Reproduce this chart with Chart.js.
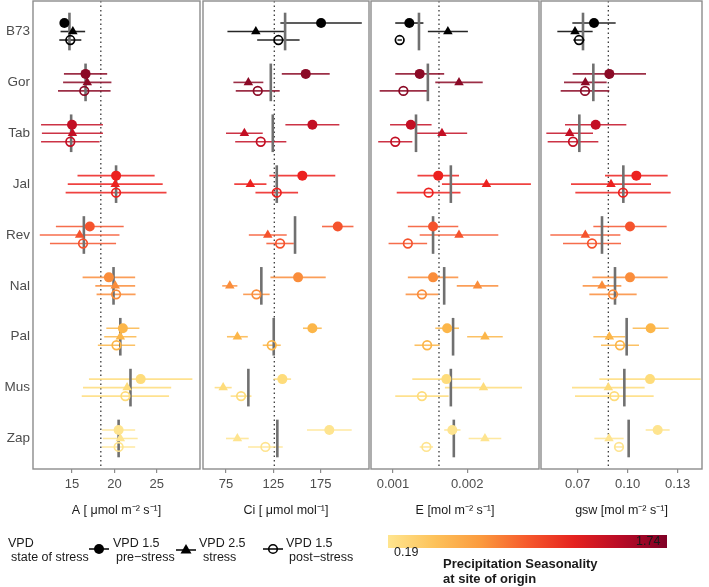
<!DOCTYPE html>
<html>
<head>
<meta charset="utf-8">
<script src="https://cdn.jsdelivr.net/npm/chart.js@4.4.1/dist/chart.umd.min.js"></script>
<style>
    body { margin: 0; background: #fff; font-family: "Liberation Sans", Arial, sans-serif; }
    #wrap { position: relative; width: 709px; height: 587px; overflow: hidden; }
    #wrap canvas { position: absolute; left: 0; top: 0; }
    .txt { position: absolute; font-size: 12.5px; color: #1a1a1a; white-space: nowrap; line-height: 15px; }
    .bold { font-weight: bold; font-size: 13px; }
    #cbar { position: absolute; left: 388px; top: 535px; width: 279px; height: 13px;
        background: linear-gradient(to right, #ffe58f, #fdc25a, #fb9a3e, #f6592c, #e5221f, #b80b26, #800026); }
</style>
</head>
<body>
<div id="wrap">
    <canvas id="c0" width="709" height="587"></canvas>
    <canvas id="c1" width="709" height="587"></canvas>
    <canvas id="c2" width="709" height="587"></canvas>
    <canvas id="c3" width="709" height="587"></canvas>

    <div class="txt" style="left:8px;top:536px;">VPD</div>
    <div class="txt" style="left:11px;top:550px;">state of stress</div>
    <svg style="position:absolute;left:88px;top:542px;" width="22" height="14">
        <line x1="1" y1="7" x2="21" y2="7" stroke="#000" stroke-width="1.5"/>
        <circle cx="11" cy="7" r="5" fill="#000"/>
    </svg>
    <div class="txt" style="left:113px;top:536px;">VPD 1.5</div>
    <div class="txt" style="left:116px;top:550px;">pre−stress</div>
    <svg style="position:absolute;left:175px;top:542px;" width="22" height="14">
        <line x1="1" y1="8" x2="21" y2="8" stroke="#000" stroke-width="1.5"/>
        <polygon points="11,2 16.5,11.5 5.5,11.5" fill="#000"/>
    </svg>
    <div class="txt" style="left:199px;top:536px;">VPD 2.5</div>
    <div class="txt" style="left:203px;top:550px;">stress</div>
    <svg style="position:absolute;left:262px;top:542px;" width="22" height="14">
        <line x1="1" y1="7" x2="21" y2="7" stroke="#000" stroke-width="1.5"/>
        <circle cx="11" cy="7" r="4.3" fill="none" stroke="#000" stroke-width="1.6"/>
    </svg>
    <div class="txt" style="left:286px;top:536px;">VPD 1.5</div>
    <div class="txt" style="left:289px;top:550px;">post−stress</div>

    <div id="cbar"></div>
    <div class="txt" style="left:394px;top:545px;">0.19</div>
    <div class="txt" style="left:636px;top:534px;">1.74</div>
    <div class="txt bold" style="left:443px;top:556px;">Precipitation Seasonality</div>
    <div class="txt bold" style="left:443px;top:571px;">at site of origin</div>
</div>

<script>
// === Data (order: top to bottom) ===
const genotypes = ["B73", "Gor", "Tab", "Jal", "Rev", "Nal", "Pal", "Mus", "Zap"];
const genotypeColors = ["#000000", "#8b0a26", "#c30f24", "#ec211f", "#f5532d", "#fa8d3b", "#fcb649", "#fedc7b", "#fee48f"];

// A
const aPre = [14.1, 16.6, 15.0, 20.2, 17.1, 19.35, 21.0, 23.1, 20.5];
const aPreErr = [0.5, 2.55, 3.65, 4.55, 4.0, 3.1, 1.95, 6.1, 1.95];
const aStress = [15.1, 16.8, 15.05, 20.1, 15.9, 20.1, 20.7, 21.5, 20.7];
const aStressErr = [1.45, 2.85, 3.6, 5.6, 4.7, 2.35, 1.9, 5.2, 2.05];
const aPost = [14.8, 16.45, 14.8, 20.2, 16.3, 20.2, 20.25, 21.3, 20.5];
const aPostErr = [1.3, 3.1, 3.45, 5.95, 3.9, 2.3, 2.2, 5.15, 1.95];
const aMean = [14.7, 16.6, 14.9, 20.2, 16.4, 19.9, 20.7, 21.9, 20.5];

// Ci
const ciPre = [175.4, 159.2, 166.2, 155.6, 193, 151.1, 166.2, 134.5, 184.1];
const ciPreErr = [43, 25.3, 28.5, 34.8, 16.6, 29.2, 9.9, 9.2, 23.6];
const ciStress = [106.5, 98.6, 94.4, 100.7, 119.1, 79, 87, 72, 87];
const ciStressErr = [30, 15.8, 19.4, 17, 20, 8, 11, 9, 12];
const ciPost = [130.3, 108.5, 111.7, 128.6, 132.1, 107.1, 123.3, 90.9, 116.6];
const ciPostErr = [22.4, 23.2, 27, 22.5, 14.5, 14, 9.5, 11, 18.3];
const ciMean = [137.4, 122.3, 124.4, 128.6, 147.9, 112.3, 125.4, 98.6, 129.2];

// E
const ePre = [0.00122, 0.00136, 0.00124, 0.00161, 0.00154, 0.00154, 0.00173, 0.00172, 0.00180];
const ePreErr = [0.00019, 0.00033, 0.00028, 0.00028, 0.00034, 0.00034, 0.00016, 0.00046, 0.00011];
const eStress = [0.00174, 0.00189, 0.00166, 0.00226, 0.00189, 0.00214, 0.00224, 0.00222, 0.00224];
const eStressErr = [0.00027, 0.00032, 0.00034, 0.00060, 0.00053, 0.00028, 0.00024, 0.00052, 0.00022];
const ePost = [0.00109, 0.00114, 0.00103, 0.00148, 0.00120, 0.00139, 0.00146, 0.00139, 0.00145];
const ePostErr = [0.00003, 0.00032, 0.00023, 0.00043, 0.00026, 0.00022, 0.00017, 0.00036, 0.00009];
const eMean = [0.00135, 0.00147, 0.00131, 0.00178, 0.00154, 0.00169, 0.00181, 0.00178, 0.00182];

// gsw
const gPre = [0.0798, 0.089, 0.0808, 0.1052, 0.1014, 0.1014, 0.1138, 0.1134, 0.118];
const gPreErr = [0.013, 0.022, 0.0184, 0.0188, 0.022, 0.0226, 0.0108, 0.0304, 0.0072];
const gStress = [0.0684, 0.0746, 0.0652, 0.09, 0.0746, 0.0846, 0.089, 0.0884, 0.0888];
const gStressErr = [0.0106, 0.0128, 0.014, 0.024, 0.021, 0.0116, 0.0096, 0.0218, 0.0088];
const gPost = [0.0708, 0.0744, 0.0672, 0.0972, 0.0786, 0.0912, 0.0954, 0.092, 0.0948];
const gPostErr = [0.0034, 0.0146, 0.0152, 0.0286, 0.0174, 0.0142, 0.0114, 0.0236, 0.003];
const gMean = [0.0732, 0.0794, 0.071, 0.0974, 0.0846, 0.0924, 0.0994, 0.098, 0.1006];

// overall reference (dotted line) per panel
const refLines = [18.4, 126, 0.00162, 0.0884];

// tick labels per panel
const aTicks = [15, 20, 25];
const ciTicks = [75, 125, 175];
const eTicks = [0.001, 0.002];
const gTicks = [0.07, 0.10, 0.13];

// === Panel setup ===
const panels = [
    { vals: [aPre, aStress, aPost], errs: [aPreErr, aStressErr, aPostErr], mean: aMean, ref: refLines[0],
      ticks: aTicks, digits: 0, min: 10.4, max: 30.1, left: 33, right: 200, title: "A [ μmol m⁻² s⁻¹]" },
    { vals: [ciPre, ciStress, ciPost], errs: [ciPreErr, ciStressErr, ciPostErr], mean: ciMean, ref: refLines[1],
      ticks: ciTicks, digits: 0, min: 50.7, max: 226, left: 203, right: 369, title: "Ci [ μmol mol⁻¹]" },
    { vals: [ePre, eStress, ePost], errs: [ePreErr, eStressErr, ePostErr], mean: eMean, ref: refLines[2],
      ticks: eTicks, digits: 3, min: 0.000703, max: 0.002969, left: 371, right: 539, title: "E [mol m⁻² s⁻¹]" },
    { vals: [gPre, gStress, gPost], errs: [gPreErr, gStressErr, gPostErr], mean: gMean, ref: refLines[3],
      ticks: gTicks, digits: 2, min: 0.048, max: 0.1446, left: 541, right: 702, title: "gsw [mol m⁻² s⁻¹]" },
];

const offsets = [0.167, 0, -0.167];
const yPos = (i, t) => genotypes.length - i + offsets[t];

const withAlpha = (hex, a) => {
    const n = parseInt(hex.slice(1), 16);
    return `rgba(${(n >> 16) & 255}, ${(n >> 8) & 255}, ${n & 255}, ${a})`;
};

// === Error bars, mean lines, reference line and frame ===
const panelDecor = {
    id: "panelDecor",
    beforeDatasetsDraw(chart, args, opts) {
        const p = opts.panel;
        if (!p) return;
        const { ctx, chartArea: area, scales: { x, y } } = chart;
        ctx.save();
        ctx.beginPath();
        ctx.rect(area.left, area.top, area.width, area.height);
        ctx.clip();

        // dotted reference line
        const rx = x.getPixelForValue(p.ref);
        ctx.setLineDash([1.5, 3]);
        ctx.strokeStyle = "#3a3a3a";
        ctx.lineWidth = 1.3;
        ctx.beginPath();
        ctx.moveTo(rx, area.top);
        ctx.lineTo(rx, area.bottom);
        ctx.stroke();
        ctx.setLineDash([]);

        // horizontal error bars
        ctx.lineWidth = 1.6;
        p.vals.forEach((series, t) => {
            series.forEach((v, i) => {
                const e = p.errs[t][i];
                const py = y.getPixelForValue(yPos(i, t));
                ctx.strokeStyle = withAlpha(genotypeColors[i], 0.85);
                ctx.beginPath();
                ctx.moveTo(x.getPixelForValue(v - e), py);
                ctx.lineTo(x.getPixelForValue(v + e), py);
                ctx.stroke();
            });
        });

        // genotype mean lines
        ctx.strokeStyle = "#707070";
        ctx.lineWidth = 2.6;
        p.mean.forEach((m, i) => {
            const mx = x.getPixelForValue(m);
            ctx.beginPath();
            ctx.moveTo(mx, y.getPixelForValue(yPos(i, 1) + 0.37));
            ctx.lineTo(mx, y.getPixelForValue(yPos(i, 1) - 0.37));
            ctx.stroke();
        });
        ctx.restore();
    },
    afterDraw(chart, args, opts) {
        if (!opts.panel) return;
        const { ctx, chartArea: area } = chart;
        ctx.save();
        ctx.strokeStyle = "#8c8c8c";
        ctx.lineWidth = 1.4;
        ctx.strokeRect(area.left, area.top, area.width, area.height);
        ctx.restore();
    },
};

const buildChart = (p, idx) => {
    const ctx = document.getElementById("c" + idx).getContext("2d");
    const datasets = p.vals.map((series, t) => ({
        data: series.map((v, i) => ({ x: v, y: yPos(i, t) })),
        pointStyle: t === 1 ? "triangle" : "circle",
        pointRadius: t === 0 ? 5 : (t === 1 ? 5.5 : 4.3),
        pointBackgroundColor: t === 2 ? "rgba(0,0,0,0)" : genotypeColors,
        pointBorderColor: genotypeColors,
        pointBorderWidth: t === 2 ? 1.7 : 0,
        showLine: false,
    }));

    const yAxis = {
        type: "linear",
        display: idx === 0,
        min: 0.4,
        max: 9.6,
        afterBuildTicks: (s) => { s.ticks = genotypes.map((g, i) => ({ value: genotypes.length - i })); },
        ticks: {
            callback: (v) => genotypes[genotypes.length - v],
            color: "#4d4d4d",
            font: { size: 13.5, family: "Liberation Sans" },
            padding: 3,
            autoSkip: false,
        },
        grid: { display: false, drawTicks: false },
        border: { display: false },
    };
    if (idx === 0) {
        yAxis.afterFit = (s) => { s.width = 33; s.paddingTop = 0; s.paddingBottom = 0; };
    }

    return new Chart(ctx, {
        type: "scatter",
        data: { datasets },
        options: {
            responsive: false,
            animation: false,
            devicePixelRatio: 1,
            layout: {
                autoPadding: false,
                padding: { left: idx === 0 ? 0 : p.left, right: 709 - p.right, top: 1, bottom: 65 },
            },
            plugins: {
                legend: { display: false },
                tooltip: { enabled: false },
                panelDecor: { panel: p },
            },
            scales: {
                x: {
                    type: "linear",
                    min: p.min,
                    max: p.max,
                    afterBuildTicks: (s) => { s.ticks = p.ticks.map((v) => ({ value: v })); },
                    afterFit: (s) => { s.height = 53; s.paddingLeft = 0; s.paddingRight = 0; },
                    ticks: {
                        callback: (v) => Number(v).toFixed(p.digits),
                        color: "#4d4d4d",
                        font: { size: 13, family: "Liberation Sans" },
                        padding: 4,
                        maxRotation: 0,
                        autoSkip: false,
                    },
                    grid: { drawOnChartArea: false, drawTicks: true, tickLength: 4, color: "#8c8c8c", lineWidth: 1.2 },
                    border: { display: false },
                    title: {
                        display: true,
                        text: p.title,
                        color: "#1a1a1a",
                        font: { size: 12.5, family: "Liberation Sans" },
                        padding: { top: 4, bottom: 4 },
                    },
                },
                y: yAxis,
            },
        },
        plugins: [panelDecor],
    });
};

panels.forEach((p, idx) => buildChart(p, idx));
</script>
</body>
</html>
